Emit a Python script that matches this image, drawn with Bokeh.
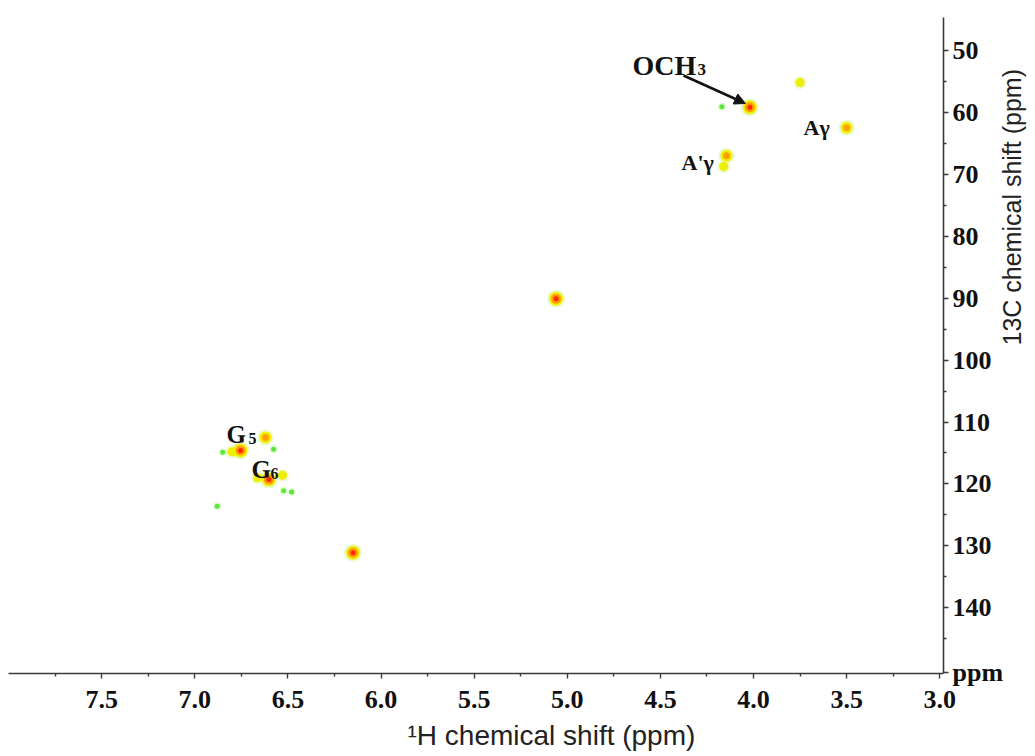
from math import pi
from bokeh.plotting import figure
from bokeh.models import Range1d, FixedTicker, Label, Arrow, NormalHead, ColumnDataSource, Title
from bokeh.embed import file_html
from bokeh.resources import INLINE

# ---------------- data ----------------
# cross peaks: 1H shift (ppm), 13C shift (ppm), contour depth (1 = faint .. 4 = strongest)
peak_h = [4.02, 3.75, 3.50, 4.145, 4.16, 4.17, 5.06, 6.88, 6.15,
          6.62, 6.754, 6.80, 6.85, 6.577, 6.602, 6.663, 6.529, 6.523, 6.48]
peak_c = [59.2, 55.2, 62.5, 67.0, 68.75, 59.1, 90.1, 123.6, 131.1,
          112.5, 114.6, 114.8, 114.9, 114.4, 119.3, 119.0, 118.6, 121.1, 121.3]
peak_level = [4, 2, 3, 3, 2, 1, 4, 1, 4,
              3, 4, 2, 1, 1, 4, 2, 2, 1, 1]

x_ticks = [3.0, 3.5, 4.0, 4.5, 5.0, 5.5, 6.0, 6.5, 7.0, 7.5]
x_tick_labels = ["3.0", "3.5", "4.0", "4.5", "5.0", "5.5", "6.0", "6.5", "7.0", "7.5"]
x_minor = [3.25, 3.75, 4.25, 4.75, 5.25, 5.75, 6.25, 6.75, 7.25, 7.75]
y_ticks = [50, 60, 70, 80, 90, 100, 110, 120, 130, 140]
y_tick_labels = ["50", "60", "70", "80", "90", "100", "110", "120", "130", "140"]
y_minor = [55, 65, 75, 85, 95, 105, 115, 125, 135, 145]
unit_label = "ppm"

x_title = "\u00b9H chemical shift (ppm)"
y_title = "13C chemical shift (ppm)"

# ---------------- layout ----------------
X_LEFT, X_RIGHT = 8.0, 2.98
Y_TOP, Y_BOT = 44.7, 150.6
FL, FT, FW, FH = 8, 17, 935, 656


def px2x(px):
    return X_LEFT - (px - FL) * (X_LEFT - X_RIGHT) / FW


def py2y(py):
    return Y_TOP + (py - FT) * (Y_BOT - Y_TOP) / FH


p = figure(frame_width=FW, frame_height=FH,
           min_border_left=FL, min_border_top=FT,
           min_border_right=1035 - FL - FW, min_border_bottom=756 - FT - FH,
           x_range=Range1d(X_LEFT, X_RIGHT), y_range=Range1d(Y_BOT, Y_TOP),
           y_axis_location="right", toolbar_location=None,
           output_backend="svg", background_fill_color="white",
           border_fill_color="white")
p.outline_line_color = None
p.xgrid.grid_line_color = None
p.ygrid.grid_line_color = None

SERIF = "Liberation Serif"
SANS = "Liberation Sans"
for ax in (p.xaxis[0], p.yaxis[0]):
    ax.axis_line_color = "#3a3a3a"
    ax.axis_line_width = 1.6
    ax.major_tick_line_color = "#3a3a3a"
    ax.minor_tick_line_color = "#3a3a3a"
    ax.major_tick_line_width = 1.4
    ax.minor_tick_line_width = 1.4
    ax.major_tick_in = 0
    ax.major_tick_out = 5
    ax.minor_tick_in = 0
    ax.minor_tick_out = 3
    ax.major_label_text_font = SERIF
    ax.major_label_text_font_style = "bold"
    ax.major_label_text_font_size = "26px"
    ax.major_label_text_color = "#111111"

p.xaxis.ticker = FixedTicker(ticks=x_ticks, minor_ticks=x_minor)
p.xaxis.major_label_overrides = dict(zip(x_ticks, x_tick_labels))
p.xaxis.major_label_standoff = 12

# the unit "ppm" sits at the foot of the 13C axis, as a label at the range end
unit_pos = Y_BOT - 0.15
p.yaxis.ticker = FixedTicker(ticks=y_ticks + [unit_pos], minor_ticks=y_minor)
ov = {float(k): v for k, v in zip(y_ticks, y_tick_labels)}
ov[unit_pos] = unit_label
p.yaxis.major_label_overrides = ov
p.yaxis.major_label_standoff = 4

yax = p.yaxis[0]
yax.axis_label = y_title
yax.axis_label_text_font = SANS
yax.axis_label_text_font_style = "normal"
yax.axis_label_text_font_size = "25px"
yax.axis_label_text_color = "#222222"
yax.axis_label_standoff = 6
try:
    yax.axis_label_orientation = pi / 2
except Exception:
    pass

p.add_layout(Title(text=x_title, align="left", offset=399, vertical_align="top",
                   text_font=SANS, text_font_style="normal", text_font_size="28px",
                   text_color="#222222", standoff=18), "below")

# ---------------- peaks as stacked contour-like discs ----------------
ring_styles = {
    1: [(8, "#c9f7b0", 0.55), (5, "#5ce63c", 1.0)],
    2: [(13, "#e4f7a4", 0.55), (9, "#eeee00", 1.0)],
    3: [(16, "#d6f5a0", 0.55), (12, "#f0f000", 1.0), (7, "#ffa200", 1.0)],
    4: [(18, "#d6f5a0", 0.55), (14, "#f0f000", 1.0), (10, "#ff9a00", 1.0), (5, "#ff2a00", 1.0)],
}
for ring in range(4):
    for lvl, rings in ring_styles.items():
        if ring >= len(rings):
            continue
        size, color, alpha = rings[ring]
        idx = [i for i, l in enumerate(peak_level) if l == lvl]
        if not idx:
            continue
        src = ColumnDataSource(dict(x=[peak_h[i] for i in idx], y=[peak_c[i] for i in idx]))
        p.scatter("x", "y", source=src, marker="circle", size=size,
                  fill_color=color, fill_alpha=alpha, line_color=None)

# ---------------- annotations ----------------
def lab(text, px, py, size, font=SERIF, style="bold", align="left",
        baseline="alphabetic", color="#111111"):
    p.add_layout(Label(x=px2x(px), y=py2y(py), text=text, text_font=font,
                       text_font_style=style, text_font_size=f"{size}px",
                       text_align=align, text_baseline=baseline, text_color=color))

lab("OCH", 632, 65, 28)
lab("3", 697, 69, 17)
lab("A\u03b3", 803, 127, 22)
lab("A'\u03b3", 681, 162, 22)
lab("G", 226, 434, 25)
lab("5", 248, 438, 16)
lab("G", 251, 469, 25)
lab("6", 270, 473, 16)

p.add_layout(Arrow(end=NormalHead(size=11, fill_color="#111111", line_color="#111111"),
                   x_start=px2x(683), y_start=py2y(75), x_end=px2x(745), y_end=py2y(103),
                   line_width=2.5, line_color="#111111"))

open("out.html", "w").write(file_html(p, INLINE))
